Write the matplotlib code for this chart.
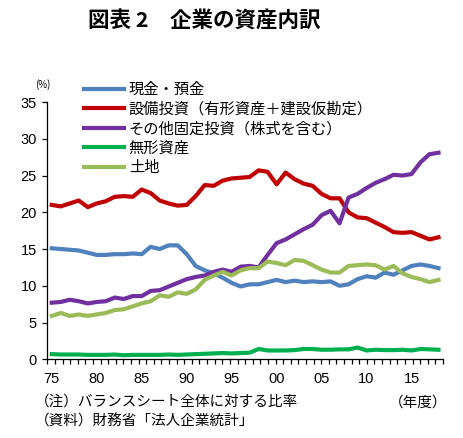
import numpy as np
import matplotlib
matplotlib.use("Agg")
import matplotlib.pyplot as plt

plt.rcParams['font.family'] = ['Noto Sans CJK JP', 'DejaVu Sans']

years = np.arange(1975, 2019)

cash = [15.1, 15.0, 14.9, 14.8, 14.5, 14.2, 14.2, 14.3, 14.3, 14.4,
        14.3, 15.3, 15.0, 15.5, 15.5, 14.3, 12.7, 12.1, 11.7, 11.1,
        10.4, 9.9, 10.2, 10.2, 10.5, 10.8, 10.5, 10.7, 10.5, 10.6,
        10.5, 10.6, 10.0, 10.2, 10.9, 11.3, 11.1, 11.8, 11.5, 12.1,
        12.7, 12.9, 12.7, 12.4]
equip = [21.0, 20.8, 21.2, 21.6, 20.7, 21.2, 21.5, 22.1, 22.2, 22.1,
         23.1, 22.6, 21.6, 21.2, 20.9, 21.0, 22.2, 23.7, 23.6, 24.3,
         24.6, 24.7, 24.8, 25.7, 25.5, 23.8, 25.4, 24.5, 23.9, 23.6,
         22.5, 21.9, 21.9, 20.0, 19.3, 19.2, 18.6, 18.0, 17.3, 17.2,
         17.3, 16.8, 16.3, 16.6]
other = [7.7, 7.8, 8.1, 7.9, 7.6, 7.8, 7.9, 8.4, 8.2, 8.6,
         8.6, 9.3, 9.4, 9.9, 10.4, 10.9, 11.2, 11.4, 11.9, 12.2,
         11.9, 12.6, 12.7, 12.5, 14.2, 15.8, 16.3, 17.0, 17.7, 18.3,
         19.6, 20.2, 18.5, 22.0, 22.5, 23.3, 24.0, 24.5, 25.1, 25.0,
         25.2, 26.8, 27.9, 28.1]
intangible = [0.7, 0.65, 0.65, 0.65, 0.6, 0.6, 0.6, 0.65, 0.55, 0.6,
              0.6, 0.6, 0.6, 0.65, 0.6, 0.65, 0.7, 0.75, 0.8, 0.85,
              0.8, 0.85, 0.9, 1.4, 1.2, 1.2, 1.2, 1.25, 1.4, 1.4,
              1.3, 1.3, 1.35, 1.35, 1.6, 1.2, 1.3, 1.25, 1.25, 1.3,
              1.2, 1.4, 1.35, 1.3]
land = [5.9, 6.3, 5.9, 6.1, 5.9, 6.1, 6.3, 6.7, 6.8, 7.2,
        7.6, 7.9, 8.7, 8.5, 9.1, 8.9, 9.5, 10.8, 11.4, 11.9,
        11.4, 12.1, 12.4, 12.4, 13.3, 13.1, 12.8, 13.5, 13.4, 12.8,
        12.2, 11.8, 11.8, 12.7, 12.8, 12.9, 12.8, 12.2, 12.7, 11.7,
        11.2, 10.9, 10.5, 10.8]

labels = ['現金・預金', '設備投資（有形資産＋建設仮勘定）', 'その他固定投資（株式を含む）',
          '無形資産', '土地']
colors = ['#4F81BD', '#C00000', '#7030A0', '#00B050', '#9BBB59']
tick_years = [1975, 1980, 1985, 1990, 1995, 2000, 2005, 2010, 2015]
tick_text = ['75', '80', '85', '90', '95', '00', '05', '10', '15']

fig = plt.figure(figsize=(4.64, 4.38), dpi=100)
ax = fig.add_axes([0.1019, 0.1797, 0.8528, 0.5874])

series = [cash, equip, other, intangible, land]
for vals, lab, col in zip(series, labels, colors):
    ax.plot(years, vals, color=col, lw=3.0, label=lab, solid_joinstyle='round')

ax.set_xlim(1974.5, 2018.5)
ax.set_ylim(0, 35)
ax.set_yticks(np.arange(0, 36, 5))
ax.set_xticks(tick_years)
ax.set_xticklabels(tick_text)
ax.set_xticks(np.linspace(1974.5, 2018.5, 53), minor=True)
for s in ['top', 'right']:
    ax.spines[s].set_visible(False)
for s in ['left', 'bottom']:
    ax.spines[s].set_color('black')
    ax.spines[s].set_linewidth(0.9)
ax.tick_params(axis='y', direction='out', length=3.5, width=0.9, pad=4)
ax.tick_params(axis='x', which='major', length=0, pad=9)
ax.tick_params(axis='x', which='minor', direction='out', length=3.5, width=0.9)
for t in ax.get_xticklabels() + ax.get_yticklabels():
    t.set_family(['Liberation Sans', 'DejaVu Sans'])
    t.set_fontsize(10.5)

fig.text(0.44, 0.952, '図表 2　企業の資産内訳', ha='center', va='center',
         fontsize=15.5, fontweight='bold')
fig.text(0.093, 0.806, '(%)', ha='center', va='center', fontsize=7)

leg = fig.legend(loc='upper left', bbox_to_anchor=(0.182, 0.815), frameon=False,
                 fontsize=11, handlelength=2.6, handletextpad=0.3,
                 labelspacing=0.17, borderaxespad=0, borderpad=0)

fig.text(0.076, 0.083, '（注）バランスシート全体に対する比率', ha='left', va='center', fontsize=10.5)
fig.text(0.076, 0.037, '（資料）財務省「法人企業統計」', ha='left', va='center', fontsize=10.5)
fig.text(0.965, 0.080, '（年度）', ha='right', va='center', fontsize=10.5)

fig.savefig('out.png', dpi=100, facecolor='white')
